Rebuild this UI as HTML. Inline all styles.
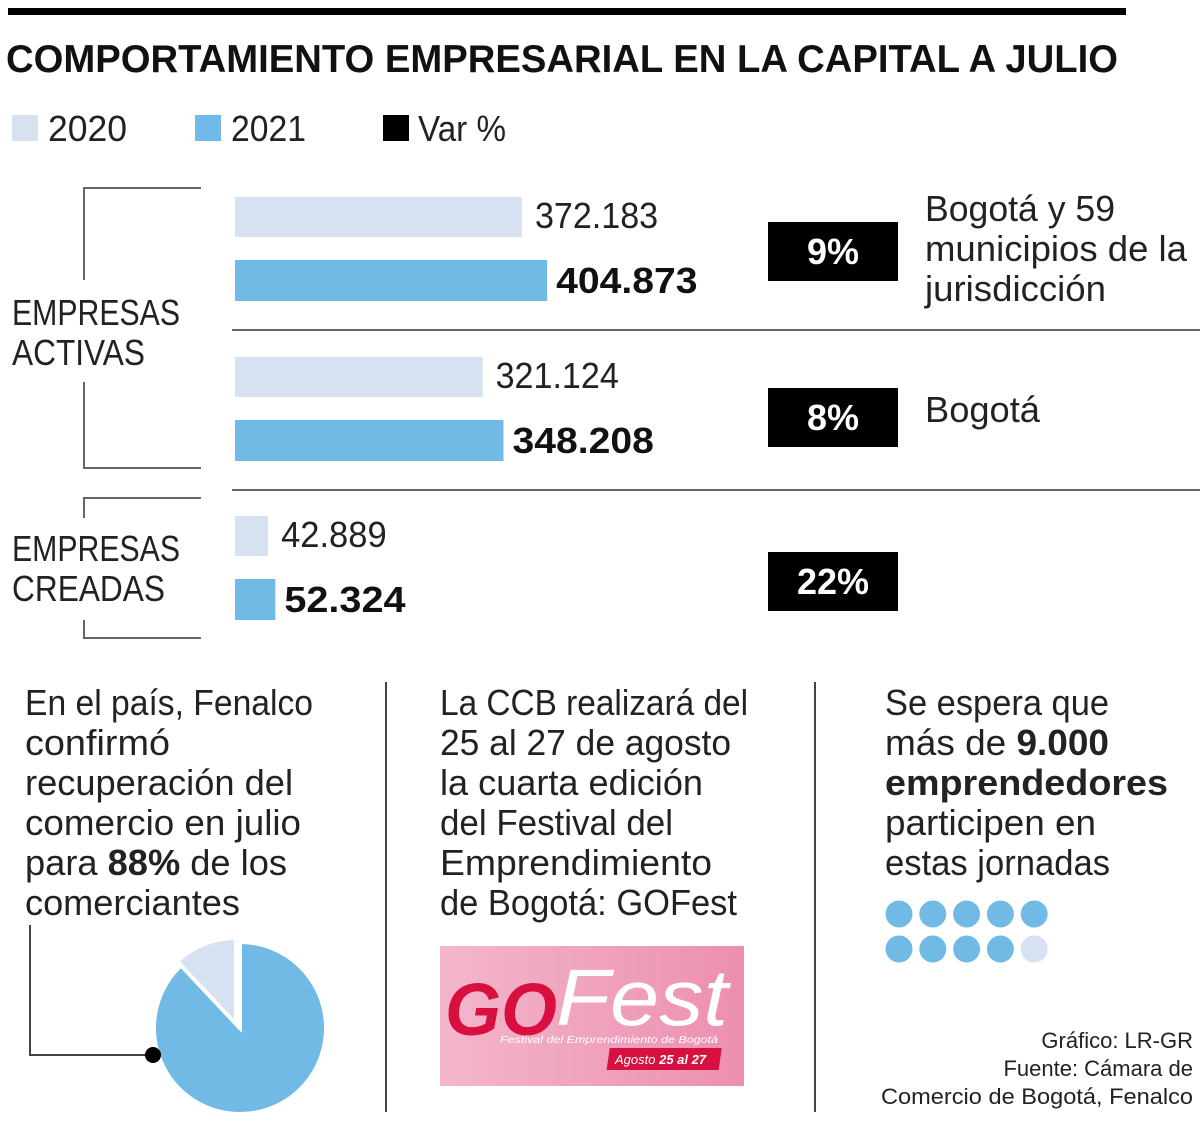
<!DOCTYPE html>
<html><head><meta charset="utf-8"><style>
body{margin:0;background:#fff;width:1200px;height:1124px;overflow:hidden;font-family:"Liberation Sans",sans-serif;}
</style></head><body>
<svg width="1200" height="1124" xmlns="http://www.w3.org/2000/svg" font-family="Liberation Sans, sans-serif">
<rect x="8" y="8" width="1118" height="7" fill="#000"/>
<text x="6" y="72" font-size="39" font-weight="bold" fill="#111" textLength="1112" lengthAdjust="spacingAndGlyphs">COMPORTAMIENTO EMPRESARIAL EN LA CAPITAL A JULIO</text>
<g font-size="36" fill="#222">
<rect x="12" y="115" width="26" height="26" fill="#d6e1f2"/>
<text x="48" y="141" textLength="79" lengthAdjust="spacingAndGlyphs">2020</text>
<rect x="195" y="115" width="26" height="26" fill="#72bae6"/>
<text x="231" y="141" textLength="75" lengthAdjust="spacingAndGlyphs">2021</text>
<rect x="383" y="115" width="26" height="26" fill="#000"/>
<text x="418" y="141" textLength="88" lengthAdjust="spacingAndGlyphs">Var %</text>
</g>
<g stroke="#666" stroke-width="2" fill="none">
<path d="M201 188H84V280M84 382V468H201"/>
<path d="M201 498H84V518M84 620V638H201"/>
<line x1="232" y1="330" x2="1200" y2="330"/>
<line x1="232" y1="490" x2="1200" y2="490"/>
</g>
<g font-size="36" fill="#222" lengthAdjust="spacingAndGlyphs">
<text x="12" y="325" textLength="168" lengthAdjust="spacingAndGlyphs">EMPRESAS</text>
<text x="12" y="365" textLength="133" lengthAdjust="spacingAndGlyphs">ACTIVAS</text>
<text x="12" y="561" textLength="168" lengthAdjust="spacingAndGlyphs">EMPRESAS</text>
<text x="12" y="601" textLength="153" lengthAdjust="spacingAndGlyphs">CREADAS</text>
</g>
<g id="bars"></g>
<g id="vars"></g>
<g font-size="36" fill="#222">
<text x="925" y="221" textLength="190" lengthAdjust="spacingAndGlyphs">Bogotá y 59</text>
<text x="925" y="261" textLength="262" lengthAdjust="spacingAndGlyphs">municipios de la</text>
<text x="925" y="301" textLength="181" lengthAdjust="spacingAndGlyphs">jurisdicción</text>
<text x="925" y="422" textLength="115" lengthAdjust="spacingAndGlyphs">Bogotá</text>
</g>
<g stroke="#444" stroke-width="2">
<line x1="386" y1="682" x2="386" y2="1112"/>
<line x1="815" y1="682" x2="815" y2="1112"/>
</g>
<g font-size="36" fill="#222">
<text x="25" y="715" textLength="288" lengthAdjust="spacingAndGlyphs">En el país, Fenalco</text>
<text x="25" y="755" textLength="145" lengthAdjust="spacingAndGlyphs">confirmó</text>
<text x="25" y="795" textLength="268" lengthAdjust="spacingAndGlyphs">recuperación del</text>
<text x="25" y="835" textLength="276" lengthAdjust="spacingAndGlyphs">comercio en julio</text>
<text x="25" y="875" textLength="262" lengthAdjust="spacingAndGlyphs">para <tspan font-weight="bold">88%</tspan> de los</text>
<text x="25" y="915" textLength="215" lengthAdjust="spacingAndGlyphs">comerciantes</text>
<text x="440" y="715" textLength="308" lengthAdjust="spacingAndGlyphs">La CCB realizará del</text>
<text x="440" y="755" textLength="291" lengthAdjust="spacingAndGlyphs">25 al 27 de agosto</text>
<text x="440" y="795" textLength="263" lengthAdjust="spacingAndGlyphs">la cuarta edición</text>
<text x="440" y="835" textLength="233" lengthAdjust="spacingAndGlyphs">del Festival del</text>
<text x="440" y="875" textLength="272" lengthAdjust="spacingAndGlyphs">Emprendimiento</text>
<text x="440" y="915" textLength="297" lengthAdjust="spacingAndGlyphs">de Bogotá: GOFest</text>
<text x="885" y="715" textLength="224" lengthAdjust="spacingAndGlyphs">Se espera que</text>
<text x="885" y="755" textLength="224" lengthAdjust="spacingAndGlyphs">más de <tspan font-weight="bold">9.000</tspan></text>
<text x="885" y="795" font-weight="bold" textLength="283" lengthAdjust="spacingAndGlyphs">emprendedores</text>
<text x="885" y="835" textLength="211" lengthAdjust="spacingAndGlyphs">participen en</text>
<text x="885" y="875" textLength="225" lengthAdjust="spacingAndGlyphs">estas jornadas</text>
</g>
<path d="M30 925V1055H153" stroke="#444" stroke-width="2" fill="none"/>
<g id="pie"></g>
<circle cx="153" cy="1055" r="8" fill="#000"/>
<g id="dots"></g>
<g>
<defs><linearGradient id="pg" x1="0" x2="1"><stop offset="0" stop-color="#f4b6cb"/><stop offset="1" stop-color="#ec8fb0"/></linearGradient></defs>
<rect x="440" y="946" width="304" height="140" fill="url(#pg)"/>
<text x="445" y="1035" font-size="74" font-weight="bold" font-style="italic" fill="#d8103f" textLength="112" lengthAdjust="spacingAndGlyphs">GO</text>
<text x="556" y="1025" font-size="80" font-style="italic" fill="#fff" textLength="172" lengthAdjust="spacingAndGlyphs">Fest</text>
<text x="500" y="1043" font-size="10" font-style="italic" fill="#fff" textLength="218" lengthAdjust="spacingAndGlyphs">Festival del Emprendimiento de Bogotá</text>
<rect x="607" y="1048" width="112" height="22" fill="#d8103f" transform="skewX(-8) translate(150 0)"/>
<text x="615" y="1064" font-size="13" font-style="italic" fill="#fff">Agosto <tspan font-weight="bold">25 al 27</tspan></text>
</g>
<g font-size="22" fill="#222" text-anchor="end">
<text x="1193" y="1048">Gráfico: LR-GR</text>
<text x="1193" y="1076">Fuente: Cámara de</text>
<text x="1193" y="1104" textLength="312" lengthAdjust="spacingAndGlyphs">Comercio de Bogotá, Fenalco</text>
</g>
</svg>
<script>
const categories=["Bogotá y 59 municipios","Bogotá","Empresas creadas"];
const values2020=[372183,321124,42889];
const values2021=[404873,348208,52324];
const labels2020=["372.183","321.124","42.889"];
const labels2021=["404.873","348.208","52.324"];
const varLabels=["9%","8%","22%"];
const pieShare=[88,12];
const dotsFilled=9;
const dotsTotal=10;
const NS="http://www.w3.org/2000/svg";
function mk(t,a,p){const e=document.createElementNS(NS,t);for(const k in a)e.setAttribute(k,a[k]);p.appendChild(e);return e;}
const x0=235,scale=0.000771;
function xw(v){return v*scale;}
const groupTop=[197,357,516];
const bars=document.getElementById('bars'),vars=document.getElementById('vars');
categories.forEach((c,i)=>{
 const y=groupTop[i];
 const w1=xw(values2020[i]),w2=xw(values2021[i]);
 const r1=mk('rect',{x:x0,y:y,width:w1,height:40,fill:'#d6e1f2'},bars);
 
 
 const t1=mk('text',{x:x0+w1+13,y:y+31,'font-size':36,fill:'#222',textLength:labels2020[i].length*17.6,lengthAdjust:'spacingAndGlyphs'},bars);t1.textContent=labels2020[i];
 
 
 const r2=mk('rect',{x:x0,y:y+63,width:w2,height:41,fill:'#72bae6'},bars);
 
 
 const t2=mk('text',{x:x0+w2+9,y:y+96,'font-size':36,'font-weight':'bold',fill:'#111',textLength:labels2021[i].length*20.2,lengthAdjust:'spacingAndGlyphs'},bars);t2.textContent=labels2021[i];
 
 
 const vy=[222,388,552][i];
 const b=mk('rect',{x:768,y:vy,width:130,height:59,fill:'#000'},vars);
 
 
 const vt=mk('text',{x:833,y:vy+42,'font-size':36,'font-weight':'bold',fill:'#fff','text-anchor':'middle'},vars);vt.textContent=varLabels[i];
 
 
});
const pie=document.getElementById('pie');const cx=240,cy=1028,R=86;
const tot=pieShare[0]+pieShare[1];
function pt(a,r,ox,oy){return [ox+r*Math.sin(a),oy-r*Math.cos(a)];}
const a1=2*Math.PI*pieShare[0]/tot;
let p=pt(a1,R,cx,cy);
const s1=mk('path',{d:`M${cx} ${cy}L${cx} ${cy-R}A${R} ${R} 0 ${a1>Math.PI?1:0} 1 ${p[0]} ${p[1]}Z`,fill:'#72bae6',stroke:'#fff','stroke-width':4},pie);


const ox=cx-4,oy=cy-4;
let q0=pt(a1,R,ox,oy),q1=pt(2*Math.PI,R,ox,oy);
const s2=mk('path',{d:`M${ox} ${oy}L${q0[0]} ${q0[1]}A${R} ${R} 0 0 1 ${q1[0]} ${q1[1]}Z`,fill:'#d6e1f2',stroke:'#fff','stroke-width':4},pie);


const dots=document.getElementById('dots');
for(let i=0;i<dotsTotal;i++){
 const d=mk('circle',{cx:899+(i%5)*33.8,cy:914+Math.floor(i/5)*35,r:13.5,fill:i<dotsFilled?'#72bae6':'#d6e1f2'},dots);
 
 
}
</script>
</body></html>
